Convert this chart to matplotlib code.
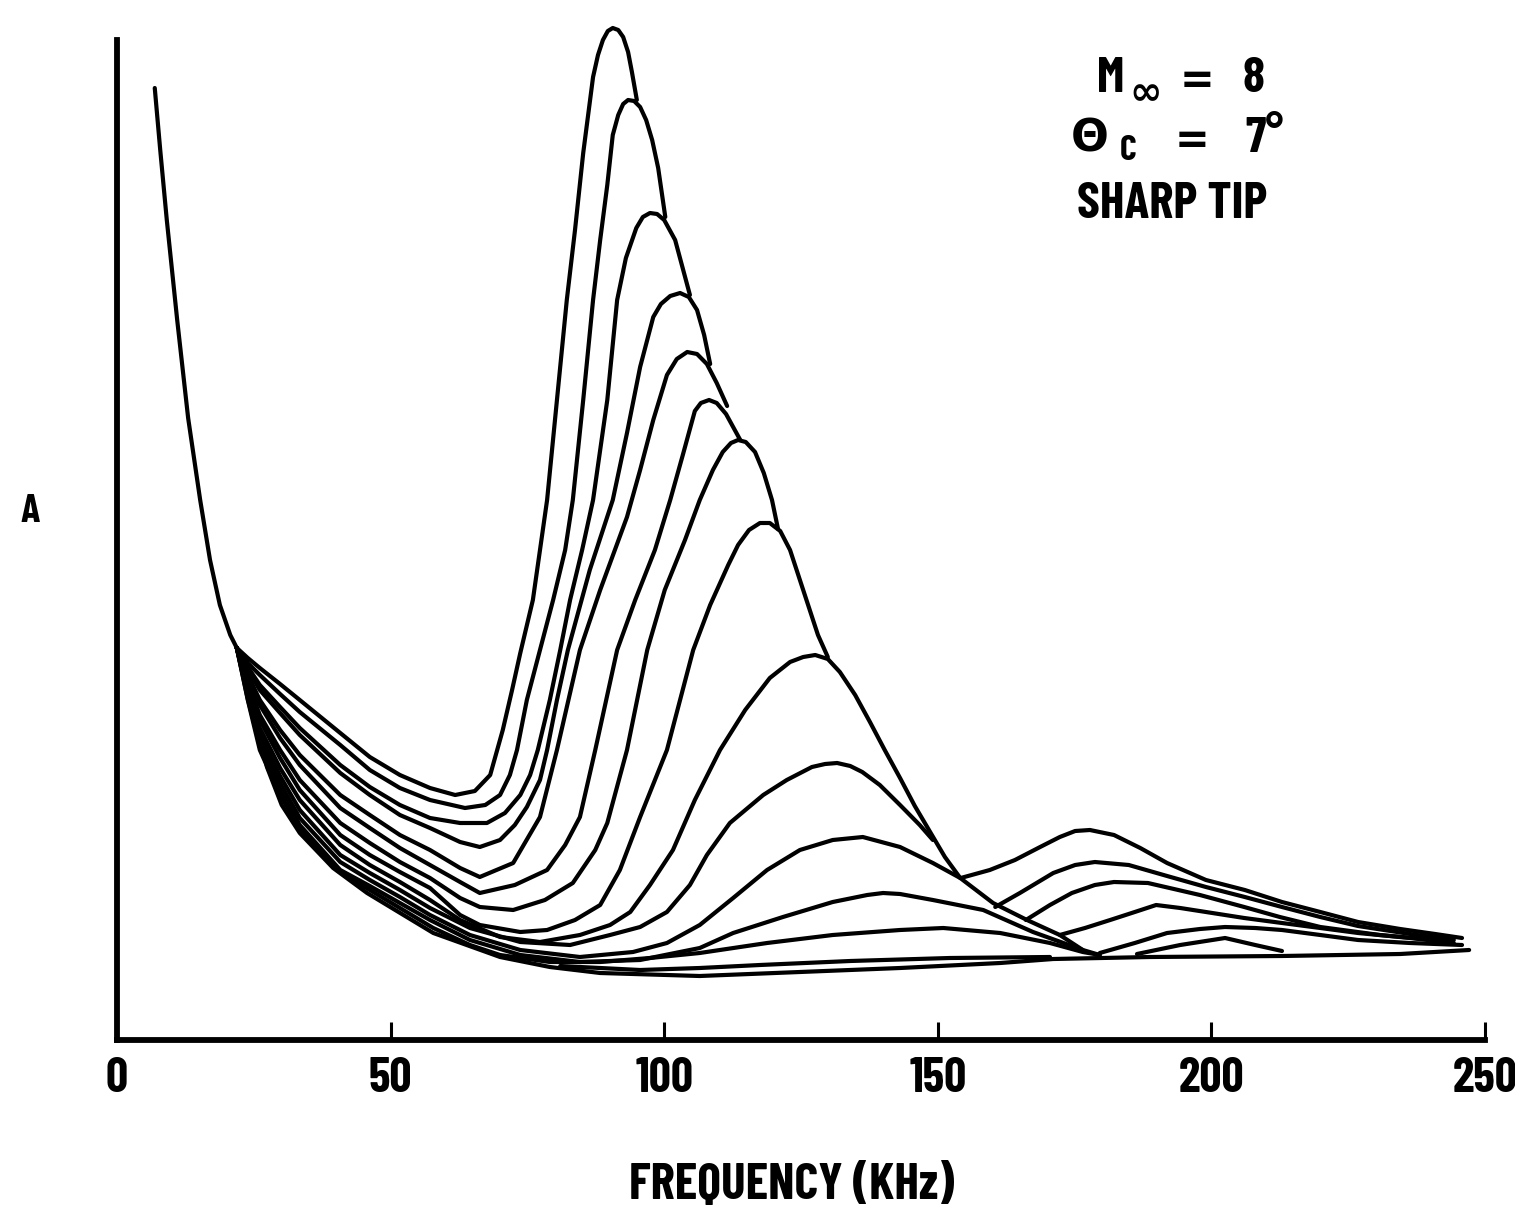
import matplotlib.pyplot as plt

plt.rcParams['font.family'] = ['Barlow Condensed', 'DejaVu Sans']
plt.rcParams['font.weight'] = 'bold'

# frequency in kHz, amplitude A in relative units (axis line = 0, top of spine = 100)
branch_f = [6.9, 7.9, 9.1, 11.0, 13.0, 15.2, 17.0, 18.8, 20.7, 21.9]
branch_a = [95.2, 89.0, 82.0, 72.0, 62.2, 54.0, 48.0, 43.5, 40.5, 39.2]

c1_f = [21.9, 23.9, 26.1, 29.8, 33.4, 40.8, 46.2, 51.7, 57.2, 61.8, 65.4, 68.2, 70.5, 72.2, 73.7, 76.0, 78.6,
        80.4, 82.2, 83.7, 85.2, 87.0, 87.9, 88.8, 89.7, 90.6, 91.6, 92.5, 93.4, 94.1, 95.0]
c1_a = [39.2, 38.2, 37.2, 35.6, 34.0, 30.7, 28.3, 26.5, 25.2, 24.5, 24.9, 26.5, 31.0, 35.0, 38.7, 44.0, 54.0,
        64.0, 74.0, 81.0, 88.7, 96.3, 98.5, 100.0, 100.9, 101.2, 101.0, 100.3, 98.8, 96.8, 94.0]

c2_f = [21.9, 23.9, 26.1, 29.8, 33.4, 40.8, 46.2, 51.7, 57.2, 63.6, 67.3, 70.0, 71.8, 73.1, 74.9, 77.3, 79.7,
        81.9, 83.3, 85.2, 87.0, 88.3, 89.6, 90.6, 91.6, 92.5, 93.4, 94.5, 95.6, 96.7, 97.8, 98.9, 100.2]
c2_a = [39.2, 37.7, 36.5, 34.6, 32.8, 29.5, 27.0, 25.2, 24.0, 23.2, 23.5, 24.5, 26.5, 29.0, 34.0, 39.0, 44.0,
        49.0, 54.0, 64.0, 74.0, 80.0, 85.5, 90.5, 92.5, 93.6, 94.0, 93.9, 93.3, 92.0, 90.0, 87.2, 82.3]

c3_f = [21.9, 23.9, 26.1, 29.8, 33.4, 40.8, 46.2, 51.7, 57.2, 62.7, 67.6, 70.9, 73.7, 75.5, 76.9, 79.1, 81.0,
        82.8, 85.0, 87.0, 88.3, 89.6, 90.5, 91.4, 93.0, 94.9, 96.1, 97.4, 98.7, 100.0, 102.0, 104.7]
c3_a = [39.2, 37.3, 35.5, 33.3, 31.2, 27.5, 25.3, 23.5, 22.2, 21.7, 21.7, 22.7, 24.5, 26.5, 29.0, 34.0, 39.0,
        44.0, 49.0, 54.0, 59.0, 64.0, 69.0, 74.0, 78.2, 81.2, 82.3, 82.7, 82.6, 82.0, 80.0, 74.5]

c4_f = [21.9, 23.9, 26.1, 29.8, 33.4, 40.8, 46.2, 51.7, 57.2, 62.7, 66.3, 70.0, 72.7, 74.9, 77.3, 78.6, 80.4,
        82.4, 86.4, 90.6, 93.2, 95.6, 98.0, 99.4, 101.1, 102.9, 104.5, 106.0, 107.3, 108.4]
c4_a = [39.2, 37.0, 35.0, 32.7, 30.5, 26.7, 24.5, 22.5, 21.2, 19.8, 19.3, 20.0, 21.5, 23.3, 26.0, 29.0, 34.0,
        39.0, 47.0, 54.0, 60.7, 67.3, 72.3, 73.6, 74.4, 74.7, 74.3, 73.0, 70.5, 67.6]

c5_f = [21.9, 23.9, 26.1, 29.8, 33.4, 40.8, 46.2, 51.7, 57.2, 62.7, 66.3, 72.4, 77.3, 80.4, 84.6, 88.3, 93.2,
        95.6, 98.0, 100.5, 102.3, 104.2, 106.0, 107.8, 109.6, 111.5]
c5_a = [39.2, 36.5, 34.0, 31.0, 28.5, 24.5, 22.5, 20.5, 19.0, 17.2, 16.3, 17.7, 22.3, 29.0, 39.0, 45.0, 52.3,
        57.0, 62.0, 66.5, 68.1, 68.8, 68.6, 67.6, 65.7, 63.4]

c6_f = [21.9, 23.9, 26.1, 29.8, 33.4, 40.8, 46.2, 51.7, 57.2, 62.7, 66.3, 72.7, 78.6, 81.9, 84.6, 87.4, 91.4,
        94.7, 98.3, 101.1, 103.4, 105.6, 106.7, 108.2, 109.6, 111.3, 112.6, 113.9]
c6_a = [39.2, 36.2, 33.5, 30.2, 27.5, 23.2, 21.2, 19.2, 17.5, 15.8, 14.7, 15.5, 17.0, 19.5, 22.3, 29.0, 39.0,
        44.0, 49.0, 54.0, 58.5, 62.9, 63.7, 64.0, 63.7, 62.6, 61.3, 60.0]

c7_f = [21.9, 23.9, 26.1, 29.8, 33.4, 40.8, 46.2, 51.7, 57.2, 62.7, 66.3, 72.4, 78.2, 83.3, 87.4, 89.6, 93.2,
        96.9, 100.1, 103.8, 106.5, 108.9, 110.7, 112.2, 113.5, 114.9, 116.6, 118.2, 119.7, 120.8]
c7_a = [39.2, 35.7, 32.5, 29.0, 26.0, 21.7, 19.7, 17.8, 16.2, 14.2, 13.3, 13.0, 14.0, 15.7, 19.0, 21.7, 29.0,
        39.0, 45.0, 50.0, 54.0, 57.0, 58.8, 59.7, 60.0, 59.8, 58.8, 56.7, 54.0, 51.1]

c8_f = [21.9, 23.9, 26.1, 29.8, 33.4, 40.8, 46.2, 51.7, 57.2, 62.7, 66.3, 73.7, 78.6, 83.7, 88.3, 91.9, 95.6,
        100.5, 105.3, 108.4, 111.7, 113.5, 115.5, 117.5, 119.3, 121.2, 123.0, 125.7, 128.1, 129.9]
c8_a = [39.2, 35.4, 32.0, 28.2, 25.0, 20.5, 18.5, 16.8, 15.2, 12.5, 11.5, 10.8, 11.0, 12.0, 13.5, 17.0, 22.3,
        29.0, 39.0, 43.5, 47.5, 49.5, 51.0, 51.7, 51.7, 50.9, 49.0, 44.5, 40.5, 38.3]

c9_f = [21.9, 23.9, 26.1, 29.8, 33.4, 40.8, 46.2, 51.7, 57.2, 62.7, 70.0, 77.3, 84.6, 90.1, 93.8, 97.4, 101.6,
        105.6, 110.2, 114.8, 119.3, 123.0, 125.4, 127.6, 129.9, 132.1, 134.9, 137.6, 140.3, 143.1,
        145.8, 148.6, 151.3, 154.1, 160.1, 166.3, 172.3, 176.5, 179.6]
c9_a = [39.2, 35.0, 31.2, 27.2, 24.0, 19.5, 17.5, 15.8, 14.0, 12.0, 10.3, 9.8, 10.5, 11.5, 12.8, 15.5, 19.0,
        24.0, 29.0, 33.0, 36.2, 37.8, 38.3, 38.5, 38.1, 36.8, 34.5, 31.8, 29.0, 26.2,
        23.4, 20.8, 18.3, 16.2, 13.7, 12.0, 10.5, 9.0, 8.5]

c10_f = [21.9, 23.9, 26.1, 29.8, 33.4, 40.8, 46.2, 51.7, 57.2, 64.5, 73.7, 82.8, 90.1, 95.6, 100.5, 104.7, 107.8,
         112.0, 118.1, 122.4, 127.0, 129.4, 131.6, 134.0, 136.2, 139.4, 143.1, 146.7, 149.1]
c10_a = [39.2, 34.6, 30.5, 26.4, 23.0, 18.5, 16.7, 15.0, 13.2, 11.2, 9.8, 9.5, 10.5, 11.3, 12.8, 15.5, 18.5,
         21.7, 24.5, 26.0, 27.3, 27.6, 27.7, 27.4, 26.8, 25.5, 23.5, 21.5, 20.0]

c11_f = [21.9, 23.9, 26.1, 29.8, 33.4, 40.8, 46.2, 51.7, 57.2, 64.5, 73.7, 84.6, 94.3, 100.5, 106.5, 112.6, 118.8,
         124.8, 130.8, 136.3, 143.1, 149.1, 154.1]
c11_a = [39.2, 34.4, 30.0, 25.7, 22.2, 17.8, 16.0, 14.3, 12.5, 10.5, 9.0, 8.3, 8.8, 9.7, 11.5, 14.2, 17.0,
         19.0, 20.0, 20.3, 19.3, 17.7, 16.2]

c12_f = [21.9, 23.9, 26.1, 29.8, 33.4, 40.8, 46.2, 51.7, 57.2, 64.5, 73.7, 84.6, 95.6, 106.5, 112.6, 121.7, 130.8,
         137.1, 140.0, 143.1, 149.1, 158.3, 167.4, 176.5]
c12_a = [39.2, 34.1, 29.5, 25.0, 21.5, 17.0, 15.4, 13.7, 12.0, 10.0, 8.5, 7.8, 8.0, 9.2, 10.7, 12.3, 13.8,
         14.5, 14.7, 14.6, 14.0, 13.0, 10.8, 9.0]

c13_f = [21.9, 23.9, 26.1, 29.8, 33.4, 40.8, 46.2, 51.7, 57.8, 64.5, 70.0, 79.1, 88.3, 97.4, 106.5, 118.8, 130.8,
         143.1, 151.0, 161.4, 170.5, 176.5, 179.6]
c13_a = [39.2, 34.0, 29.0, 24.5, 21.2, 16.8, 15.0, 13.2, 11.2, 9.5, 8.5, 7.8, 7.8, 8.2, 8.7, 9.7, 10.5,
         11.0, 11.2, 10.7, 9.7, 8.8, 8.5]

low_f = [21.9, 24.3, 27.4, 30.1, 33.4, 39.5, 45.7, 57.8, 70.0, 79.1, 88.3, 106.5, 124.8, 143.1, 161.4, 171.1,
         188.8, 212.9, 234.5, 247.1]
low_a = [39.2, 34.0, 27.3, 23.5, 20.7, 17.2, 14.7, 10.7, 8.3, 7.3, 6.7, 6.4, 6.8, 7.2, 7.7, 8.1,
         8.3, 8.4, 8.6, 9.0]

c14_f = [81.0, 95.6, 106.5, 117.5, 134.0, 152.2, 170.5]
c14_a = [7.4, 7.0, 7.2, 7.5, 7.9, 8.2, 8.3]

# second hump (around 180 kHz)
q1_f = [154.2, 159.5, 164.1, 168.7, 172.3, 175.1, 177.8, 182.2, 187.0, 191.9, 199.0, 206.1, 212.9,
        219.9, 226.8, 234.5, 240.9, 245.8]
q1_a = [16.2, 17.0, 18.0, 19.3, 20.3, 20.9, 21.0, 20.5, 19.2, 17.7, 16.0, 15.0, 13.8,
        12.8, 11.8, 11.1, 10.6, 10.2]

q2_f = [160.5, 165.0, 171.1, 175.1, 178.7, 184.9, 191.9, 199.0, 206.1, 212.9, 219.9, 226.8, 236.3, 244.3]
q2_a = [13.3, 14.7, 16.7, 17.5, 17.8, 17.5, 16.4, 15.3, 14.3, 13.3, 12.3, 11.4, 10.6, 10.0]

q3_f = [166.1, 170.5, 174.5, 178.7, 182.2, 188.4, 197.9, 206.0, 212.5, 219.9, 230.8, 240.9]
q3_a = [12.0, 13.5, 14.7, 15.5, 15.8, 15.7, 14.5, 13.3, 12.3, 11.3, 10.5, 10.0]

q4_f = [172.3, 176.9, 181.5, 186.0, 189.9, 194.3, 199.0, 206.0, 212.9, 219.9, 226.8, 236.3, 244.3]
q4_a = [10.5, 11.2, 12.0, 12.8, 13.5, 13.2, 12.8, 12.2, 11.7, 11.2, 10.7, 10.2, 9.7]

q5_f = [179.6, 186.0, 191.9, 197.9, 202.5, 208.0, 212.9, 219.9, 226.8, 236.3, 245.8]
q5_a = [8.7, 9.7, 10.7, 11.1, 11.3, 11.2, 11.0, 10.5, 10.0, 9.7, 9.5]

q6_f = [186.4, 194.3, 202.5, 208.0, 212.9]
q6_a = [8.6, 9.5, 10.2, 9.5, 8.9]

curves = [(branch_f, branch_a), (c1_f, c1_a), (c2_f, c2_a), (c3_f, c3_a), (c4_f, c4_a),
          (c5_f, c5_a), (c6_f, c6_a), (c7_f, c7_a), (c8_f, c8_a), (c9_f, c9_a),
          (c10_f, c10_a), (c11_f, c11_a), (c12_f, c12_a), (c13_f, c13_a), (low_f, low_a),
          (c14_f, c14_a), (q1_f, q1_a), (q2_f, q2_a), (q3_f, q3_a), (q4_f, q4_a),
          (q5_f, q5_a), (q6_f, q6_a)]

xticks = [0, 50, 100, 150, 200, 250]

W, H = 1515, 1209
fig = plt.figure(figsize=(W / 100, H / 100), dpi=100)
ax = fig.add_axes([117 / W, 169 / H, 1368 / W, 1040 / H])
ax.set_xlim(0, 250)
ax.set_ylim(0, 104)

for f, a in curves:
    ax.plot(f, a, color='black', lw=3.0, solid_joinstyle='round', solid_capstyle='round', clip_on=False)

for s in ['top', 'right']:
    ax.spines[s].set_visible(False)
ax.spines['left'].set_bounds(0, 100)
ax.spines['left'].set_linewidth(4.2)
ax.spines['bottom'].set_linewidth(4.2)
ax.set_yticks([])
ax.set_xticks(xticks)
ax.set_xticklabels([str(t) for t in xticks])
ax.tick_params(axis='x', direction='in', length=13, width=2.2, pad=12, labelsize=35)


def pos(x, y):
    return x / W, 1 - y / H


fig.text(*pos(792, 1199), 'FREQUENCY (KHz)', fontsize=37, ha='center', va='baseline')
fig.text(*pos(30, 522), 'A', fontsize=29, ha='center', va='baseline')

fig.text(*pos(1111, 92), 'M', fontsize=36, ha='center', va='baseline')
fig.text(*pos(1146, 104), '\u221e', fontsize=28, ha='center', va='baseline', family='DejaVu Sans')
fig.text(*pos(1197, 93), '=', fontsize=30, ha='center', va='baseline', family='DejaVu Sans')
fig.text(*pos(1253, 92), '8', fontsize=36, ha='center', va='baseline')
fig.text(*pos(1090, 152), '\u0398', fontsize=32, ha='center', va='baseline', family='DejaVu Sans')
fig.text(*pos(1128, 160), 'C', fontsize=26, ha='center', va='baseline')
fig.text(*pos(1192, 153), '=', fontsize=30, ha='center', va='baseline', family='DejaVu Sans')
fig.text(*pos(1265, 152), '7\u00b0', fontsize=36, ha='center', va='baseline')
fig.text(*pos(1172, 218), 'SHARP TIP', fontsize=37, ha='center', va='baseline')

fig.savefig('out.png', dpi=100)
